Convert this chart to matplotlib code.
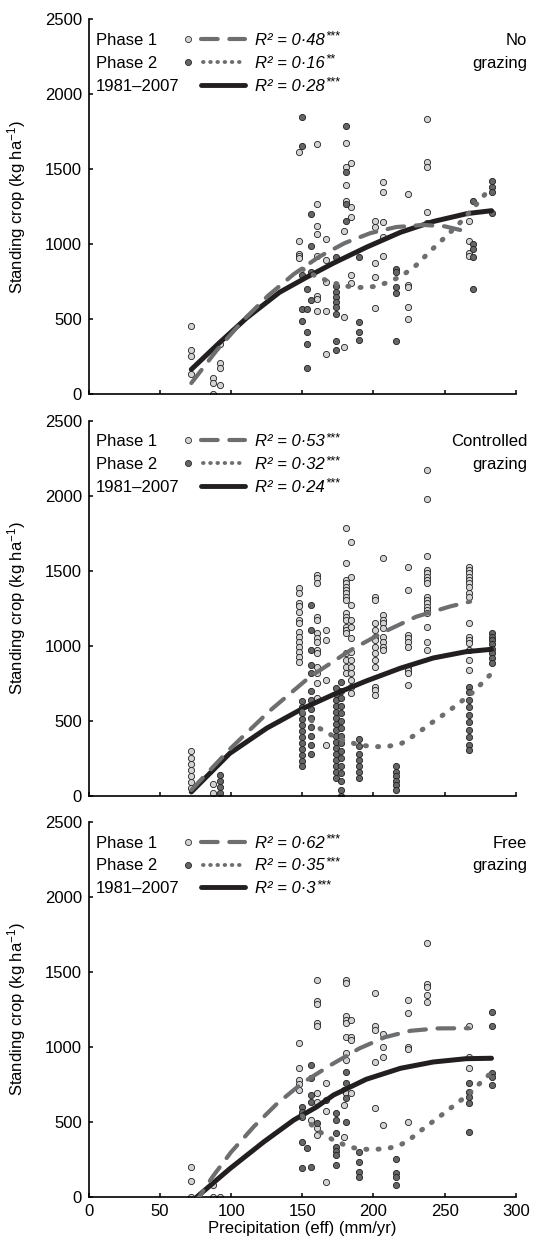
import matplotlib
matplotlib.use("Agg")
import matplotlib.pyplot as plt
from matplotlib.lines import Line2D

plt.rcParams['font.family'] = ['Liberation Sans', 'DejaVu Sans']
plt.rcParams['mathtext.fontset'] = 'custom'
plt.rcParams['mathtext.rm'] = 'Liberation Sans'
plt.rcParams['mathtext.it'] = 'Liberation Sans:italic'

# ---------------- data: No grazing ----------------
ng_p1_xs = [72, 87, 92, 148, 160, 167, 179, 181, 184, 201, 207, 224, 238, 267]
ng_p1_vals = [[453, 293, 257, 135], [107, 73, 0], [335, 211, 173, 62],
              [1617, 1024, 938, 922, 906], [1668, 1266, 1124, 1066, 924, 655, 633, 557],
              [1035, 895, 746, 557, 266], [1086, 517, 318], [1677, 1517, 1395, 1288],
              [1540, 1246, 1184, 795, 744], [1158, 1113, 875, 784, 575],
              [1418, 1346, 1146, 1051, 924], [1335, 729, 718, 584, 504],
              [1833, 1551, 1517, 1218, 1144], [1155, 1024, 940, 924]]
ng_p2_xs = [150, 153, 156, 174, 181, 190, 216, 270, 283]
ng_p2_vals = [[1847, 1657, 795, 566, 486], [702, 566, 413, 335, 175], [1200, 991, 818, 628],
              [918, 722, 684, 651, 618, 584, 535, 357, 295], [1789, 1484, 1266, 1155],
              [918, 480, 413, 364], [835, 818, 718, 673, 355], [1288, 1000, 969, 918, 704],
              [1424, 1384, 1349, 1211]]
ng_fit1_x = [72, 90, 108, 126, 144, 162, 180, 198, 216, 235, 250, 268]
ng_fit1_y = [75, 295, 489, 658, 801, 918, 1009, 1075, 1115, 1129, 1120, 1080]
ng_fit2_x = [150, 160, 170, 180, 190, 200, 210, 220, 230, 240, 250, 260, 270, 283]
ng_fit2_y = [835, 785, 748, 722, 712, 718, 745, 790, 860, 955, 1044, 1135, 1240, 1384]
ng_fitall_x = [72, 92, 111, 134, 153, 172, 195, 219, 242, 266, 283]
ng_fitall_y = [166, 346, 510, 680, 780, 875, 980, 1080, 1152, 1205, 1224]
ng_r2 = [("0·48", "***"), ("0·16", "**"), ("0·28", "***")]
ng_label = ["No", "grazing"]

# ---------------- data: Controlled grazing ----------------
cg_p1_xs = [72, 87, 148, 160, 167, 181, 184, 201, 207, 224, 238, 267]
cg_p1_vals = [[300, 250, 210, 170, 130, 90, 50], [80, 20],
              [1382, 1353, 1287, 1264, 1227, 1171, 1153, 1093, 1060, 1027, 993, 960, 927, 893],
              [1471, 1449, 1416, 1193, 1171, 1082, 1049, 1027, 971, 949, 860, 820, 749, 649],
              [1104, 1038, 771, 338],
              [1782, 1549, 1438, 1416, 1393, 1371, 1349, 1327, 1304, 1216, 1193, 1171, 1127,
               1104, 1082, 949, 904, 860, 816],
              [1693, 1460, 1271, 1171, 1127, 1049, 960, 904, 860, 816, 771, 727, 682],
              [1327, 1304, 1149, 1104, 1060, 1038, 993, 949, 904, 860, 727, 704, 671],
              [1587, 1204, 1171, 1149, 1115, 1060, 1027, 993, 971],
              [1527, 1371, 1071, 1049, 1027, 993, 860, 838, 816, 738],
              [2171, 1978, 1598, 1504, 1482, 1460, 1438, 1416, 1327, 1304, 1282, 1260, 1238,
               1216, 1127, 1027, 971],
              [1527, 1504, 1482, 1460, 1438, 1416, 1394, 1349, 1327, 1149, 1060, 1038, 1016,
               971, 904, 838]]
cg_p2_xs = [92, 150, 156, 174, 177, 190, 216, 267, 283]
cg_p2_vals = [[140, 100, 60, 20],
              [630, 590, 550, 510, 470, 430, 390, 350, 310, 270, 230, 200],
              [1271, 1104, 971, 871, 816, 700, 640, 580, 520, 460, 400, 340, 280],
              [720, 680, 640, 600, 560, 520, 480, 440, 400, 360, 320, 280, 240, 200, 160, 120],
              [760, 700, 650, 600, 550, 500, 450, 400, 350, 300, 250, 200, 150, 100, 40, 0],
              [380, 330, 280, 240, 200, 160, 120], [200, 160, 130, 100, 70, 40],
              [727, 690, 640, 590, 540, 490, 440, 390, 340, 305],
              [1082, 1060, 1040, 1010, 980, 950, 920, 882]]
cg_fit1_x = [72, 99, 127, 155, 184, 207, 230, 254, 268]
cg_fit1_y = [38, 310, 565, 790, 971, 1090, 1193, 1262, 1294]
cg_fit2_x = [150, 162, 175, 190, 200, 210, 220, 230, 240, 250, 260, 270, 283]
cg_fit2_y = [560, 450, 380, 338, 327, 328, 350, 410, 480, 545, 615, 690, 815]
cg_fitall_x = [72, 99, 125, 150, 172, 195, 219, 242, 265, 283]
cg_fitall_y = [25, 282, 450, 580, 675, 765, 850, 918, 960, 976]
cg_r2 = [("0·53", "***"), ("0·32", "***"), ("0·24", "***")]
cg_label = ["Controlled", "grazing"]

# ---------------- data: Free grazing ----------------
fg_p1_xs = [72, 87, 92, 148, 156, 160, 167, 179, 181, 184, 201, 207, 224, 238, 267]
fg_p1_vals = [[202, 107, 2], [80, 0], [0], [1024, 858, 780, 753, 713], [513],
              [1447, 1307, 1287, 1162, 1140, 691, 636, 458, 413], [762, 576, 102],
              [713, 613, 402], [1447, 1429, 1207, 1180, 1162, 1069, 958, 913, 691],
              [1180, 1069, 1047, 691], [1358, 1140, 1113, 902, 591], [1087, 1002, 931, 480],
              [1313, 1224, 1002, 984, 502], [1696, 1418, 1398, 1347, 1302], [1140, 936, 858]]
fg_p2_xs = [150, 153, 156, 160, 167, 174, 181, 190, 216, 267, 283]
fg_p2_vals = [[602, 569, 536, 369, 191], [324], [880, 791, 680, 636, 202], [491], [647],
              [558, 513, 424, 336, 310, 280, 213], [836, 758, 658, 502], [302, 236, 169, 136],
              [251, 162, 136, 80], [762, 702, 669, 624, 431], [1233, 1140, 824, 802, 747]]
fg_fit1_x = [74, 87, 100, 116, 132, 150, 170, 190, 208, 226, 245, 267]
fg_fit1_y = [-50, 136, 300, 470, 620, 760, 880, 990, 1065, 1108, 1124, 1125]
fg_fit2_x = [150, 156, 163, 171, 179, 186, 194, 202, 210, 218, 225, 231, 237, 244, 251, 258,
             265, 270, 276, 283]
fg_fit2_y = [540, 485, 430, 384, 350, 328, 318, 318, 324, 342, 380, 425, 470, 518, 569, 620,
             670, 713, 769, 830]
fg_fitall_x = [74, 99, 123, 144, 160, 172, 195, 219, 242, 265, 283]
fg_fitall_y = [-15, 188, 368, 513, 600, 680, 785, 858, 900, 922, 925]
fg_r2 = [("0·62", "***"), ("0·35", "***"), ("0·3", "***")]
fg_label = ["Free", "grazing"]

series_names = ["Phase 1", "Phase 2", "1981–2007"]
x_ticks = [0, 50, 100, 150, 200, 250, 300]
y_ticks = [0, 500, 1000, 1500, 2000, 2500]

# ---------------- style ----------------
LIGHT = '#d2d3d5'
DARK = '#646567'
EDGE = '#231f20'
GRAY_LINE = '#6d6e70'
BLACK = '#231f20'
FS = 12

W, H = 533, 1243
fig = plt.figure(figsize=(W / 100, H / 100), dpi=100)

ax_left = 88.9 / W
ax_w = 426.8 / W
ax_h = 375 / H
bottoms_px = [394.3, 795.7, 1197.0]


def expand(xs, vals):
    ox, oy = [], []
    for x, vs in zip(xs, vals):
        for v in vs:
            ox.append(x)
            oy.append(v)
    return ox, oy


panels = [
    (ng_p1_xs, ng_p1_vals, ng_p2_xs, ng_p2_vals, ng_fit1_x, ng_fit1_y, ng_fit2_x, ng_fit2_y,
     ng_fitall_x, ng_fitall_y, ng_r2, ng_label),
    (cg_p1_xs, cg_p1_vals, cg_p2_xs, cg_p2_vals, cg_fit1_x, cg_fit1_y, cg_fit2_x, cg_fit2_y,
     cg_fitall_x, cg_fitall_y, cg_r2, cg_label),
    (fg_p1_xs, fg_p1_vals, fg_p2_xs, fg_p2_vals, fg_fit1_x, fg_fit1_y, fg_fit2_x, fg_fit2_y,
     fg_fitall_x, fg_fitall_y, fg_r2, fg_label),
]

base_rows = [0.932, 0.871, 0.810]
DOT_STYLE = (0, (0.2, 2.25))

for i, (p1xs, p1v, p2xs, p2v, f1x, f1y, f2x, f2y, fax, fay, r2, lab) in enumerate(panels):
    bottom = 1 - bottoms_px[i] / H
    ax = fig.add_axes([ax_left, bottom, ax_w, ax_h])
    ax.set_xlim(0, 300)
    ax.set_ylim(0, 2500)
    for s in ['top', 'right']:
        ax.spines[s].set_visible(False)
    for s in ['left', 'bottom']:
        ax.spines[s].set_linewidth(1.2)
        ax.spines[s].set_color('black')
    ax.set_xticks(x_ticks)
    ax.set_yticks(y_ticks)
    ax.tick_params(direction='in', length=3, width=1.1, labelsize=FS, pad=5)
    if i < 2:
        ax.tick_params(axis='x', labelbottom=False)

    x1, y1 = expand(p1xs, p1v)
    x2, y2 = expand(p2xs, p2v)
    ax.scatter(x1, y1, s=20, facecolor=LIGHT, edgecolor=EDGE, linewidth=0.6, zorder=2)
    ax.scatter(x2, y2, s=20, facecolor=DARK, edgecolor=EDGE, linewidth=0.6, zorder=2)

    ax.plot(fax, fay, color=BLACK, lw=3.6, solid_capstyle='round',
            solid_joinstyle='round', zorder=3)
    ax.plot(f2x, f2y, color=GRAY_LINE, lw=3.6, linestyle=DOT_STYLE,
            dash_capstyle='round', zorder=4)
    ax.plot(f1x, f1y, color=GRAY_LINE, lw=3.0, linestyle=(0, (4, 2.8)),
            dash_capstyle='round', dash_joinstyle='round', zorder=5)

    # legend (manual)
    tx = (96 - 88.9) / 426.8
    mx = (188 - 88.9) / 426.8
    lx0 = (201 - 88.9) / 426.8
    lx1 = (245 - 88.9) / 426.8
    rx = (255 - 88.9) / 426.8
    for j in range(3):
        yb = base_rows[j]
        yc = yb + 0.0155
        ax.text(tx, yb, series_names[j], transform=ax.transAxes, fontsize=FS,
                ha='left', va='baseline')
        if j == 0:
            ax.add_line(Line2D([mx], [yc], transform=ax.transAxes, marker='o', ms=4.4,
                               mfc=LIGHT, mec=EDGE, mew=0.55, ls='none', clip_on=False))
            ax.add_line(Line2D([lx0, lx1], [yc, yc], transform=ax.transAxes, color=GRAY_LINE,
                               lw=3.0, ls=(0, (4, 2.8)), dash_capstyle='round', clip_on=False))
        elif j == 1:
            ax.add_line(Line2D([mx], [yc], transform=ax.transAxes, marker='o', ms=4.4,
                               mfc=DARK, mec=EDGE, mew=0.55, ls='none', clip_on=False))
            ax.add_line(Line2D([lx0 + 0.004, lx1 - 0.008], [yc, yc], transform=ax.transAxes,
                               color=GRAY_LINE, lw=2.8, ls=(0, (0.15, 1.7)),
                               dash_capstyle='round', clip_on=False))
        else:
            ax.add_line(Line2D([lx0, lx1], [yc, yc], transform=ax.transAxes, color=BLACK,
                               lw=3.5, solid_capstyle='round', clip_on=False))
        t = ax.text(rx, yb, "R² = " + r2[j][0], transform=ax.transAxes, fontsize=FS,
                    style='italic', ha='left', va='baseline')
        ax.annotate(r2[j][1], xy=(1, 1), xycoords=t, xytext=(0.3, 1.5),
                    textcoords='offset points', fontsize=9, style='italic',
                    ha='left', va='top')

    rxx = (527 - 88.9) / 426.8
    ax.text(rxx, base_rows[0], lab[0], transform=ax.transAxes, fontsize=FS,
            ha='right', va='baseline', clip_on=False)
    ax.text(rxx, base_rows[1], lab[1], transform=ax.transAxes, fontsize=FS,
            ha='right', va='baseline', clip_on=False)

    # y label
    yc_px = bottoms_px[i] - 187.5
    fig.text(17 / W, 1 - yc_px / H, "Standing crop (kg ha$^{-1}$)", rotation=90,
             ha='center', va='center', fontsize=FS)

fig.text(302.3 / W, 1 - 1228 / H, "Precipitation (eff) (mm/yr)", ha='center', va='center',
         fontsize=FS)

fig.savefig("out.png", dpi=100)
